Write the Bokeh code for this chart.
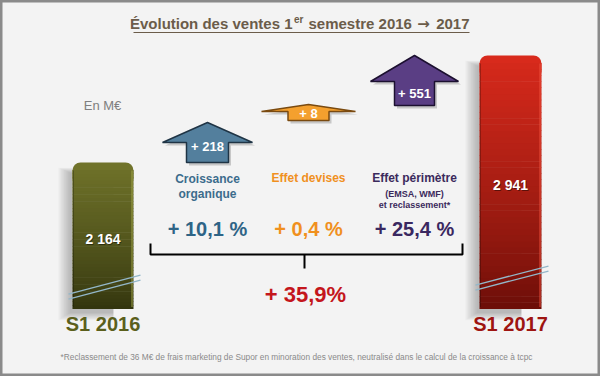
import numpy as np
from bokeh.plotting import figure
from bokeh.models import Range1d
from bokeh.core.properties import value
from bokeh.embed import file_html
from bokeh.resources import INLINE

# ---------------- data ----------------
periods = ["S1 2016", "S1 2017"]
sales = [2164, 2941]
sales_labels = ["2 164", "2 941"]
effect_names_l1 = ["Croissance", "Effet devises", "Effet périmètre"]
effect_names_l2 = ["organique", "", ""]
effect_notes_l1 = ["", "", "(EMSA, WMF)"]
effect_notes_l2 = ["", "", "et reclassement*"]
effect_values = [218, 8, 551]
effect_labels = ["+ 218", "+ 8", "+ 551"]
effect_pct = ["+ 10,1 %", "+ 0,4 %", "+ 25,4 %"]
total_pct = "+ 35,9%"
unit_label = "En M€"
title_left = "Évolution des ventes 1"
title_sup = "er"
title_mid = "semestre 2016"
title_arrow = "→"
title_end = "2017"
footnote = ("*Reclassement de 36 M€ de frais marketing de Supor en minoration des ventes, "
            "neutralisé dans le calcul de la croissance à tcpc")

# ---------------- layout / style ----------------
FONT = value("Liberation Sans")
W, H = 600, 376
AXIS_BASE = 1100          # broken value axis starts here
V_BOTTOM, V_TOP = 610, 3340
K = (V_TOP - V_BOTTOM) / H  # value units per pixel

bar_x = [102.5, 510.0]
bar_w = [61, 62]
bar_top_col = [(0x70, 0x73, 0x2a), (0xd8, 0x2a, 0x1c)]
bar_bot_col = [(0x32, 0x34, 0x0e), (0x6a, 0x0e, 0x08)]
bar_hi_col = ["#a3a64a", "#f0503c"]
label_cols = ["#5b5f1c", "#9e1511"]
break_offsets = [(15, 34), (24, 43)]

eff_x = [207, 308, 414]
eff_name_cols = ["#3c6c8c", "#f0901e", "#3b2a5c"]
eff_pct_cols = ["#2e6486", "#f0901e", "#3a2860"]
# arrow geometry: tip y, head-base y, head half width, shaft half width, bottom y
arrow_geo = [(122, 142, 45, 21, 162), (104, 111, 47, 20.5, 120), (55, 81, 44, 20, 105)]
arrow_label_y = [146, 113, 93]
arrow_fill = ["#537f9d", "#f4a02e", "#5a3e84"]
arrow_line = ["#1f3445", "#7a4a10", "#1c1030"]

p = figure(width=W, height=H, x_range=Range1d(0, W), y_range=Range1d(H, 0),
           output_backend="svg", toolbar_location=None, min_border=0,
           x_axis_location=None, y_axis_location=None)
p.grid.visible = False
p.background_fill_color = "#f3f3f3"
p.border_fill_color = "#f3f3f3"
p.outline_line_color = "#8a8a8a"
p.outline_line_width = 4
p.extra_y_ranges = {"val": Range1d(start=V_BOTTOM, end=V_TOP)}

# ---------------- bars ----------------
R = 8  # corner radius px
for i, v in enumerate(sales):
    cx, w = bar_x[i], bar_w[i]
    l, r = cx - w / 2, cx + w / 2
    # soft shadow to the left
    for s in range(9):
        p.quad(left=[l - 3 - s * 1.4], right=[r - 20], top=[v - (10 - s * 0.6) * K],
               bottom=[AXIS_BASE - (4 + s * 0.9) * K], y_range_name="val",
               fill_color="black", fill_alpha=0.028, line_color=None)
    # rounded cap
    tc = "#%02x%02x%02x" % bar_top_col[i]
    p.quad(left=[l], right=[r], top=[v], bottom=[v - 3 * R * K], y_range_name="val",
           fill_color=tc, line_color=None, border_radius=R)
    # gradient body
    n = 40
    edges = np.linspace(AXIS_BASE, v - R * K, n + 1)
    t = (edges[:-1] + edges[1:]) / 2
    frac = (t - AXIS_BASE) / (v - AXIS_BASE)
    frac = frac ** 0.8
    cols = []
    for f in frac:
        c = [int(bar_bot_col[i][j] + (bar_top_col[i][j] - bar_bot_col[i][j]) * f) for j in range(3)]
        cols.append("#%02x%02x%02x" % tuple(c))
    p.quad(left=[l] * n, right=[r] * n, bottom=list(edges[:-1]), top=list(edges[1:] + 0.5 * K),
           y_range_name="val", fill_color=cols, line_color=None)
    # edge highlight
    p.segment(x0=[r - 1.5], x1=[r - 1.5], y0=[AXIS_BASE + 2 * K], y1=[v - R * K],
              y_range_name="val", line_color=bar_hi_col[i], line_width=1.5, line_alpha=0.6)
    p.segment(x0=[l + 1], x1=[l + 1], y0=[AXIS_BASE + 2 * K], y1=[v - R * K],
              y_range_name="val", line_color="black", line_width=1, line_alpha=0.25)
    # break marks
    o1, o2 = break_offsets[i]
    for d in (0, 5):
        p.segment(x0=[l - 4], x1=[r + 7], y0=[AXIS_BASE + (o1 - d) * K], y1=[AXIS_BASE + (o2 - d) * K],
                  y_range_name="val", line_color="#93b7c9", line_width=1.3)
    # value label
    ym = (AXIS_BASE + v) / 2 - 3 * K
    p.text(x=[cx + 0.8], y=[ym - 0.8 * K], text=[sales_labels[i]], y_range_name="val",
           text_font=FONT, text_font_style="bold", text_font_size="14px",
           text_color="black", text_alpha=0.45, text_align="center", text_baseline="middle")
    p.text(x=[cx], y=[ym], text=[sales_labels[i]], y_range_name="val",
           text_font=FONT, text_font_style="bold", text_font_size="14px",
           text_color="white", text_align="center", text_baseline="middle")
    # period label
    p.text(x=[cx], y=[323], text=[periods[i]], text_font=FONT, text_font_style="bold",
           text_font_size="20px", text_color=label_cols[i], text_align="center",
           text_baseline="middle")

# ---------------- effect arrows ----------------
for i in range(3):
    cx = eff_x[i]
    ty, hb, hw, sw, by = arrow_geo[i]
    xs = [cx, cx + hw, cx + sw, cx + sw, cx - sw, cx - sw, cx - hw]
    ys = [ty, hb, hb, by, by, hb, hb]
    p.patch([x + 2.5 for x in xs], [y + 3 for y in ys], fill_color="black", fill_alpha=0.18,
            line_color=None)
    p.patch(xs, ys, fill_color=arrow_fill[i], line_color=arrow_line[i], line_width=1.5)
    p.text(x=[cx], y=[arrow_label_y[i]], text=[effect_labels[i]], text_font=FONT,
           text_font_style="bold", text_font_size="13px", text_color="white",
           text_align="center", text_baseline="middle")
    # names
    p.text(x=[cx], y=[178 if effect_names_l2[i] else 177], text=[effect_names_l1[i]], text_font=FONT,
           text_font_style="bold", text_font_size="12px", text_color=eff_name_cols[i],
           text_align="center", text_baseline="middle")
    if effect_names_l2[i]:
        p.text(x=[cx], y=[193], text=[effect_names_l2[i]], text_font=FONT,
               text_font_style="bold", text_font_size="12px", text_color=eff_name_cols[i],
               text_align="center", text_baseline="middle")
    if effect_notes_l1[i]:
        p.text(x=[cx], y=[193], text=[effect_notes_l1[i]], text_font=FONT,
               text_font_style="bold", text_font_size="9px", text_color=eff_name_cols[i],
               text_align="center", text_baseline="middle")
        p.text(x=[cx], y=[204], text=[effect_notes_l2[i]], text_font=FONT,
               text_font_style="bold", text_font_size="9px", text_color=eff_name_cols[i],
               text_align="center", text_baseline="middle")
    p.text(x=[cx], y=[228], text=[effect_pct[i]], text_font=FONT, text_font_style="bold",
           text_font_size="20px", text_color=eff_pct_cols[i], text_align="center",
           text_baseline="middle")

# ---------------- bracket & total ----------------
p.line([150, 150, 462, 462], [243, 254, 254, 243], line_color="black", line_width=2)
p.segment(x0=[304], x1=[304], y0=[254], y1=[268], line_color="black", line_width=2)
p.text(x=[305], y=[294], text=[total_pct], text_font=FONT, text_font_style="bold",
       text_font_size="22px", text_color="#c4161c", text_align="center", text_baseline="middle")

# ---------------- texts ----------------
p.text(x=[102], y=[105], text=[unit_label], text_font=FONT, text_font_size="13px",
       text_color="#7f7f7f", text_align="center", text_baseline="middle")
TC = "#6b5c4a"
TS = "15px"
p.text(x=[292], y=[23], text=[title_left], text_font=FONT, text_font_style="bold",
       text_font_size=TS, text_color=TC, text_align="right", text_baseline="middle")
p.text(x=[293.5], y=[19], text=[title_sup], text_font=FONT, text_font_style="bold",
       text_font_size="10px", text_color=TC, text_align="left", text_baseline="middle")
p.text(x=[308], y=[23], text=[title_mid], text_font=FONT, text_font_style="bold",
       text_font_size=TS, text_color=TC, text_align="left", text_baseline="middle")
p.text(x=[423], y=[23], text=[title_arrow], text_font=value("DejaVu Sans"), text_font_style="bold",
       text_font_size=TS, text_color=TC, text_align="center", text_baseline="middle")
p.text(x=[469], y=[23], text=[title_end], text_font=FONT, text_font_style="bold",
       text_font_size=TS, text_color=TC, text_align="right", text_baseline="middle")
p.segment(x0=[133], x1=[469], y0=[32], y1=[32], line_color=TC, line_width=1.2)
p.text(x=[296], y=[356], text=[footnote], text_font=FONT,
       text_font_size="8.3px", text_color="#8a8a8a", text_align="center", text_baseline="middle")

open("out.html", "w").write(file_html(p, INLINE))
